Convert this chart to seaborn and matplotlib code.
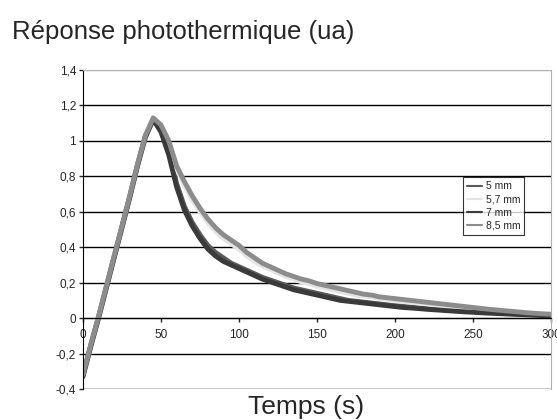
import numpy as np
import pandas as pd
import seaborn as sns
import matplotlib.pyplot as plt

# time axis (s), one reading every 5 s
temps = list(range(0, 301, 5))

# photothermal response (ua)
rep_5 = [-0.32, -0.15, 0.01, 0.18, 0.35, 0.52, 0.69, 0.87, 1.03, 1.12,
         1.06, 0.94, 0.76, 0.63, 0.54, 0.47, 0.41, 0.37, 0.34, 0.31,
         0.29, 0.27, 0.25, 0.23, 0.215, 0.20, 0.185, 0.17, 0.16, 0.15,
         0.14, 0.13, 0.12, 0.11, 0.10, 0.095, 0.09, 0.085, 0.08, 0.075,
         0.07, 0.066, 0.062, 0.058, 0.055, 0.052, 0.048, 0.045, 0.042, 0.04,
         0.037, 0.034, 0.032, 0.03, 0.028, 0.025, 0.023, 0.021, 0.019, 0.017,
         0.015]
rep_57 = [-0.33, -0.16, 0.00, 0.17, 0.34, 0.51, 0.68, 0.86, 1.02, 1.12,
          1.08, 0.98, 0.84, 0.75, 0.67, 0.60, 0.54, 0.49, 0.45, 0.42,
          0.39, 0.35, 0.32, 0.295, 0.275, 0.255, 0.235, 0.22, 0.205, 0.195,
          0.18, 0.17, 0.16, 0.15, 0.14, 0.13, 0.125, 0.12, 0.11, 0.105,
          0.10, 0.095, 0.09, 0.085, 0.08, 0.075, 0.07, 0.065, 0.06, 0.055,
          0.05, 0.047, 0.043, 0.04, 0.037, 0.034, 0.03, 0.027, 0.024, 0.022,
          0.02]
rep_7 = [-0.33, -0.16, 0.00, 0.17, 0.34, 0.51, 0.68, 0.86, 1.02, 1.12,
         1.05, 0.92, 0.74, 0.61, 0.52, 0.45, 0.39, 0.35, 0.32, 0.30,
         0.28, 0.26, 0.24, 0.22, 0.205, 0.19, 0.175, 0.16, 0.15, 0.14,
         0.13, 0.12, 0.11, 0.10, 0.095, 0.09, 0.085, 0.08, 0.075, 0.07,
         0.065, 0.06, 0.057, 0.054, 0.05, 0.047, 0.044, 0.041, 0.038, 0.035,
         0.033, 0.03, 0.028, 0.026, 0.024, 0.022, 0.02, 0.018, 0.016, 0.014,
         0.012]
rep_85 = [-0.32, -0.15, 0.01, 0.18, 0.35, 0.52, 0.69, 0.87, 1.03, 1.13,
          1.09, 1.00, 0.86, 0.77, 0.69, 0.62, 0.56, 0.51, 0.47, 0.44,
          0.41, 0.37, 0.34, 0.31, 0.29, 0.27, 0.25, 0.235, 0.22, 0.21,
          0.195, 0.185, 0.175, 0.165, 0.155, 0.145, 0.135, 0.13, 0.12, 0.115,
          0.11, 0.105, 0.10, 0.095, 0.09, 0.085, 0.08, 0.075, 0.07, 0.065,
          0.06, 0.055, 0.05, 0.046, 0.042, 0.038, 0.034, 0.03, 0.027, 0.024,
          0.022]

series = ["5 mm", "5,7 mm", "7 mm", "8,5 mm"]
couleurs = ["#5a5a5a", "#e4e4e4", "#3a3a3a", "#8c8c8c"]

y_ticks = [-0.4, -0.2, 0, 0.2, 0.4, 0.6, 0.8, 1.0, 1.2, 1.4]
y_labels = ["-0,4", "-0,2", "0", "0,2", "0,4", "0,6", "0,8", "1", "1,2", "1,4"]
x_ticks = [0, 50, 100, 150, 200, 250, 300]

df = pd.DataFrame({
    "t": temps * 4,
    "v": rep_5 + rep_57 + rep_7 + rep_85,
    "serie": sum([[s] * len(temps) for s in series], []),
})

sns.set_style("white")
plt.rcParams["font.family"] = ["Liberation Sans", "DejaVu Sans"]

fig = plt.figure(figsize=(5.57, 4.2), dpi=100)
ax = fig.add_axes([83 / 557, 1 - 389 / 420, 468 / 557, 319 / 420])

sns.lineplot(data=df, x="t", y="v", hue="serie", palette=couleurs,
             hue_order=series, linewidth=3.5, ax=ax, legend=True)

ax.set_xlim(0, 300)
ax.set_ylim(-0.4, 1.4)
ax.set_yticks(y_ticks)
ax.set_yticklabels(y_labels)
ax.set_xticks(x_ticks)
ax.set_xticklabels([str(x) for x in x_ticks])
ax.set_xlabel("")
ax.set_ylabel("")

# grid + frame
ax.yaxis.grid(True, color="black", linewidth=1)
gl = ax.get_ygridlines()
gl[0].set_color("#c8c8c8")
gl[-1].set_color("#b0b0b0")
ax.set_axisbelow(True)
ax.spines["bottom"].set_position(("data", 0))
ax.spines["bottom"].set_color("black")
ax.spines["left"].set_color("black")
ax.spines["top"].set_color("#b0b0b0")
ax.spines["right"].set_color("#b0b0b0")
ax.axhline(-0.4, color="#c8c8c8", linewidth=1.5, zorder=0)
ax.tick_params(axis="both", labelsize=8.5)
ax.tick_params(axis="y", direction="out", length=3, width=1, pad=2, left=True)
ax.tick_params(axis="x", direction="out", length=3, width=1, pad=5, bottom=True)

leg = ax.legend(loc="upper left", bbox_to_anchor=(0.80, 0.68), fontsize=7.5,
                frameon=True, fancybox=False, handlelength=1.5, handletextpad=0.3,
                borderpad=0.4, labelspacing=0.3)
leg.get_frame().set_edgecolor("black")
leg.get_frame().set_linewidth(0.8)
for h in leg.get_lines():
    h.set_linewidth(1.5)

fig.text(12 / 557, 1 - 32 / 420, "Réponse photothermique (ua)", fontsize=18.5,
         va="center", ha="left")
fig.text(306 / 557, 1 - 407 / 420, "Temps (s)", fontsize=19, va="center", ha="center")

fig.savefig("out.png", dpi=100)
